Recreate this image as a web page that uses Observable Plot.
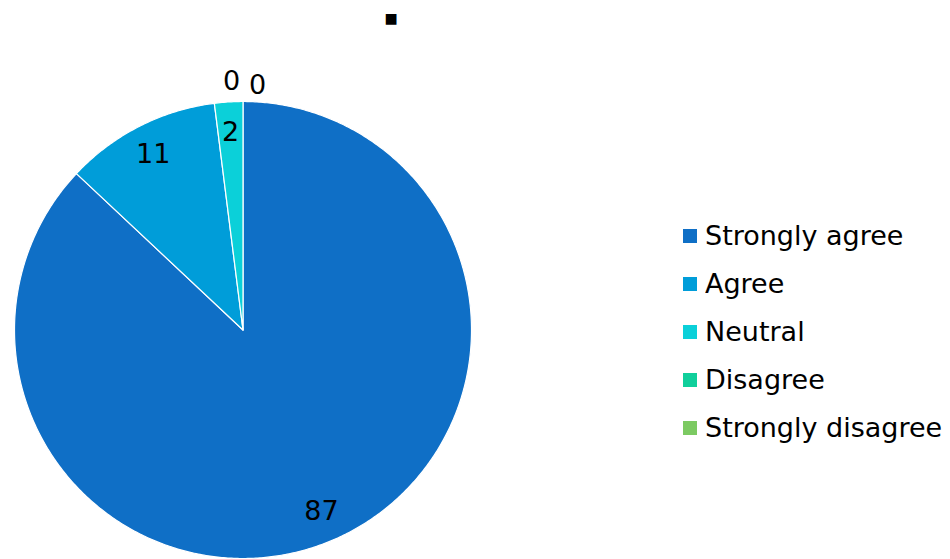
<!DOCTYPE html>
<html><head><meta charset="utf-8">
<script src="https://cdn.jsdelivr.net/npm/d3@7"></script>
<script src="https://cdn.jsdelivr.net/npm/@observablehq/plot@0.6"></script>
<style>
body{margin:0;background:#fff;font-family:"DejaVu Sans",Verdana,sans-serif;}
#wrap{position:relative;width:950px;height:559px;overflow:hidden;}
#chart{position:absolute;left:0;top:0;}
#title{position:absolute;left:341px;width:100px;top:4px;text-align:center;font-size:14px;line-height:28px;color:#000;}
#legend{position:absolute;left:683px;top:212px;}
#legend [class$="-swatch"]{line-height:48px;height:48px;padding:0 !important;margin:0;display:flex;align-items:center;white-space:nowrap;}
#legend [class$="-swatch"] svg{margin-right:8px !important;}
</style></head><body>
<div id="wrap"><div id="chart"></div><div id="title"></div><div id="legend"></div></div>
<script>
const title = "■";
const categories = ["Strongly agree", "Agree", "Neutral", "Disagree", "Strongly disagree"];
const values = [87, 11, 2, 0, 0];
const colors = ["#0F6FC6", "#009DD9", "#0BD0D9", "#10CF9B", "#7CCA62"];

document.getElementById("title").textContent = title;

const total = d3.sum(values);
const slices = [];
let acc = 0;
categories.forEach((c, i) => {
  const a0 = acc / total * 2 * Math.PI;
  acc += values[i];
  const a1 = acc / total * 2 * Math.PI;
  slices.push({key: c, value: values[i], a0, a1, mid: (a0 + a1) / 2});
});

const pts = [];
for (const s of slices) {
  if (s.value <= 0) continue;
  pts.push({key: s.key, x: 0, y: 0});
  const n = Math.max(2, Math.ceil((s.a1 - s.a0) / (Math.PI / 360)));
  for (let k = 0; k <= n; k++) {
    const a = s.a0 + (s.a1 - s.a0) * k / n;
    pts.push({key: s.key, x: Math.sin(a), y: Math.cos(a)});
  }
  pts.push({key: s.key, x: 0, y: 0});
}

const labelR = 0.865;
const inner = slices.filter(s => s.value > 0).map(s => ({
  x: labelR * Math.sin(s.mid), y: labelR * Math.cos(s.mid), text: String(s.value)
}));
const zeros = slices.filter(s => s.value === 0).map(s => ({
  x: 1.08 * Math.sin(s.mid), y: 1.08 * Math.cos(s.mid), text: String(s.value)
}));
const zeroDx = [-11.5, 14.5];
const zeroDy = [-2, 2];

const fontFamily = "'DejaVu Sans', Verdana, sans-serif";
const fs = 27;
const plot = Plot.plot({
  width: 950,
  height: 559,
  margin: 0,
  style: {fontFamily, background: "white"},
  x: {domain: [-1, 1], range: [14, 471], axis: null},
  y: {domain: [-1, 1], range: [558, 101], axis: null},
  color: {domain: categories, range: colors},
  marks: [
    Plot.line(pts, {x: "x", y: "y", z: "key", fill: "key", stroke: "white", strokeWidth: 1.2, curve: "linear", strokeLinejoin: "round"}),
    Plot.text(inner, {x: "x", y: "y", text: "text", fontSize: fs, fill: "black"}),
    ...zeros.map((z, i) => Plot.text([z], {x: "x", y: "y", text: "text", fontSize: fs, fill: "black", dx: zeroDx[i] || 0, dy: zeroDy[i] || 0}))
  ]
});
document.getElementById("chart").appendChild(plot);

const legend = plot.legend("color", {
  legend: "swatches",
  columns: 1,
  swatchSize: 14,
  style: {fontSize: fs + "px", fontFamily, color: "black"}
});
document.getElementById("legend").appendChild(legend);
</script>
</body></html>
